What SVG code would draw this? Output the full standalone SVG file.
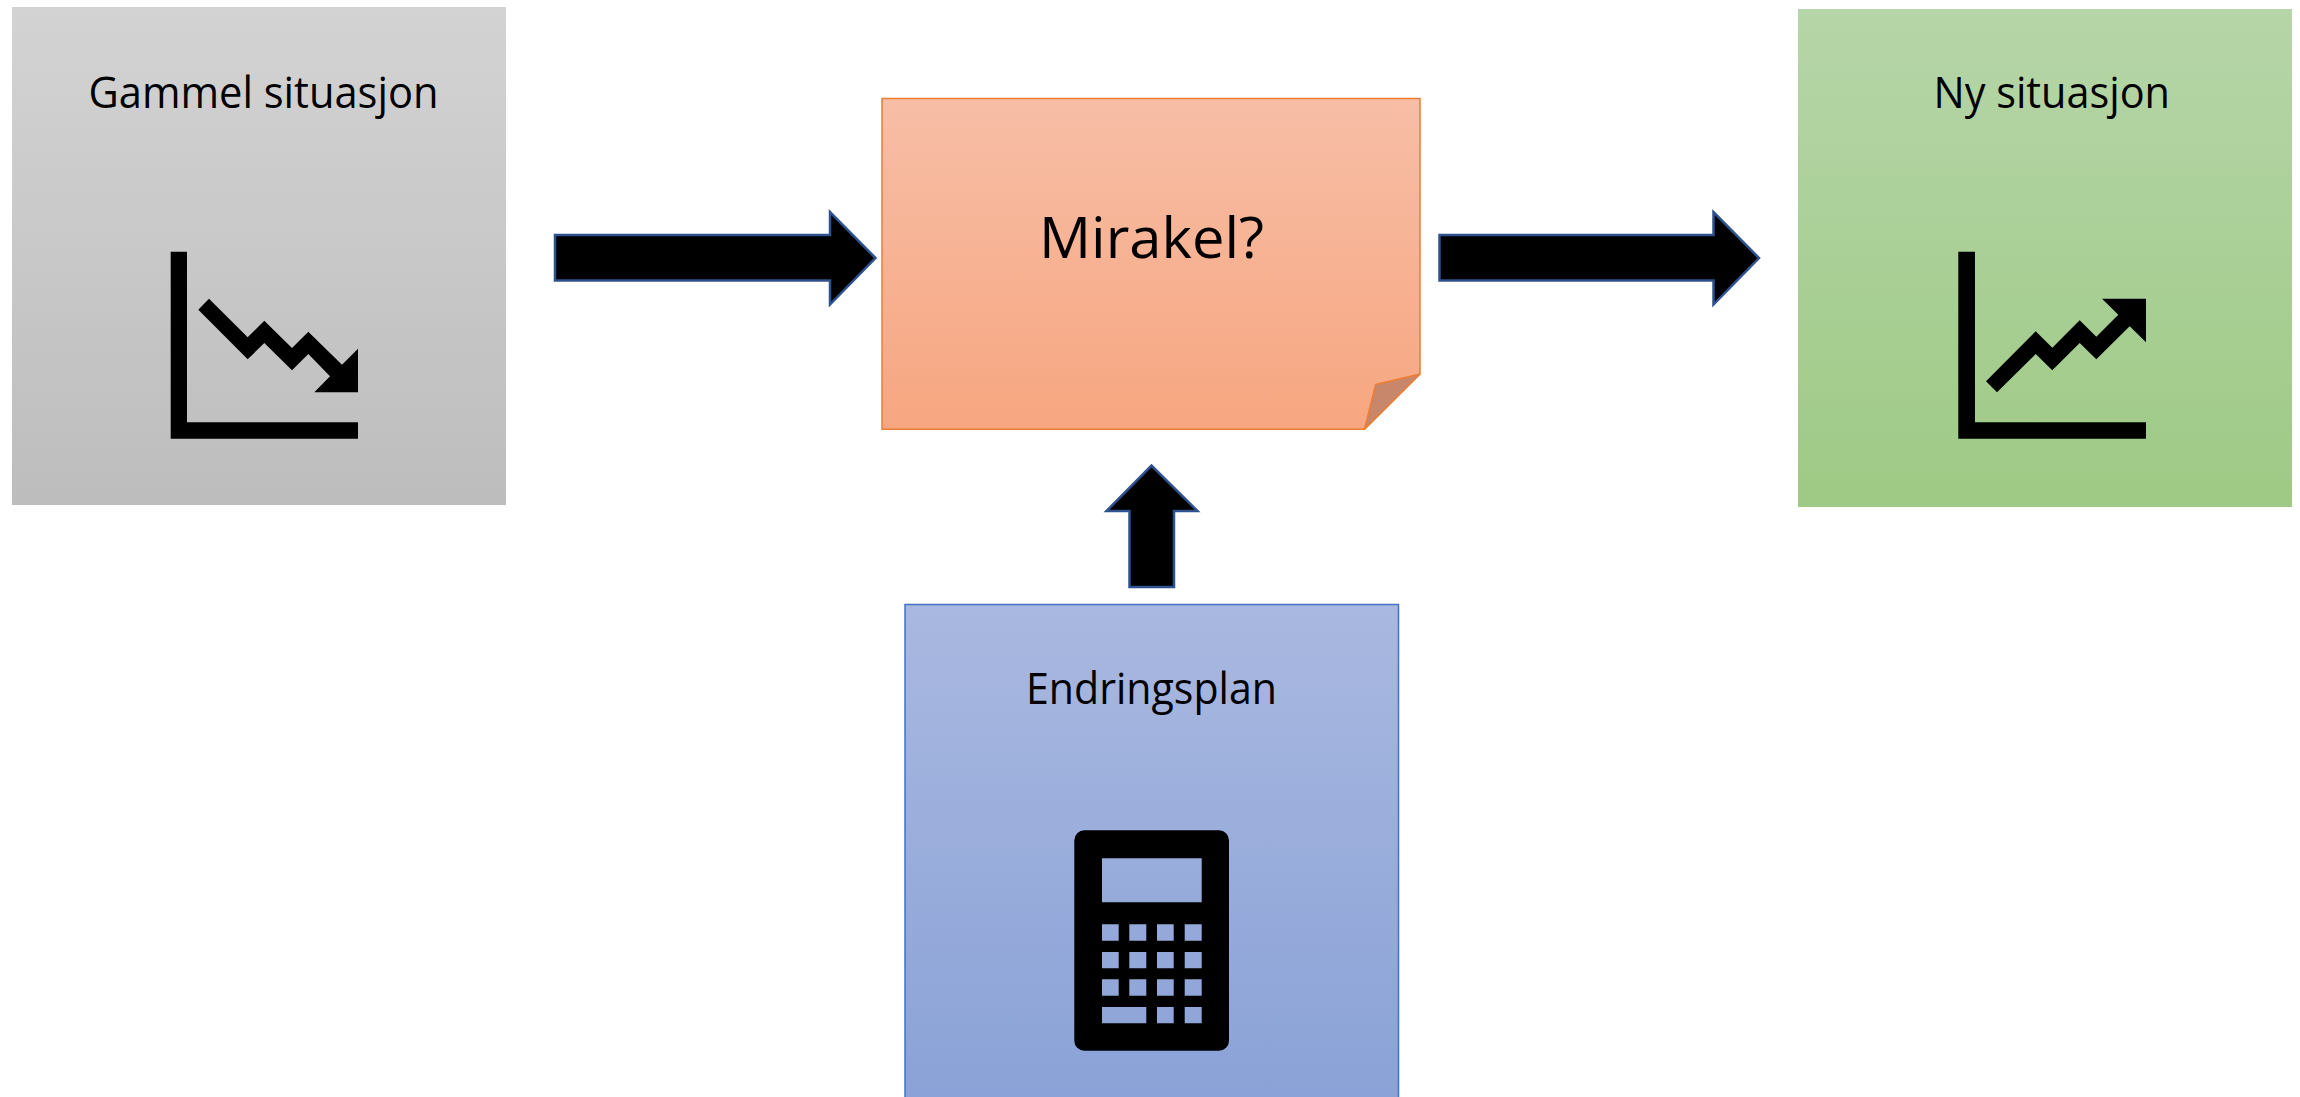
<svg xmlns="http://www.w3.org/2000/svg" width="2300" height="1097" viewBox="0 0 2300 1097">
<style>
.lbl{font-family:"Open Sans","Noto Sans",sans-serif;fill:#000}
.s{font-size:43.5px}
.arrow{fill:#000;stroke:#2f528f;stroke-width:2.5}
.ink{fill:#000}
</style>
<defs>
<linearGradient id="gGray" x1="0" y1="0" x2="0" y2="1"><stop offset="0" stop-color="#d3d3d3"/><stop offset="1" stop-color="#bdbdbd"/></linearGradient>
<linearGradient id="gGreen" x1="0" y1="0" x2="0" y2="1"><stop offset="0" stop-color="#b6d5a8"/><stop offset="1" stop-color="#9eca85"/></linearGradient>
<linearGradient id="gBlue" x1="0" y1="0" x2="0" y2="1"><stop offset="0" stop-color="#a9b8e0"/><stop offset="1" stop-color="#8aa2d7"/></linearGradient>
<linearGradient id="gOrange" x1="0" y1="0" x2="0" y2="1"><stop offset="0" stop-color="#f7bea6"/><stop offset="1" stop-color="#f7a680"/></linearGradient>
</defs>
<rect width="2300" height="1097" fill="#fff"/>
<g id="connectors">
<polygon class="arrow" points="555,235 830,235 830,212 875.5,258 830,304.5 830,280.5 555,280.5"/>
<polygon class="arrow" points="1439.5,235 1713.5,235 1713.5,212 1759,258 1713.5,304.5 1713.5,280.5 1439.5,280.5"/>
<polygon class="arrow" points="1129.5,587 1129.5,511 1106.5,511 1151.5,465.5 1197.5,511 1174,511 1174,587"/>
</g>
<g id="gammel">
<rect x="12" y="7" width="494" height="498" fill="url(#gGray)"/>
<text class="lbl s" x="88.5" y="107.7" textLength="350" lengthAdjust="spacingAndGlyphs">Gammel situasjon</text>
<polygon class="ink" points="170.7,251.7 187,251.7 187,422.3 358,422.3 358,438.7 170.7,438.7"/>
<polygon class="ink" points="198.3,309.7 209,298.7 247.7,337.3 264.3,320.7 292,348 308.3,331.7 342,364.7 358,348.7 358,392.3 314.3,392.3 330,376.3 308.3,354 292,370.3 264.3,343 247.7,359.3"/>
</g>
<g id="mirakel">
<polygon points="882,98.5 1420,98.5 1420,374 1364.5,429.3 882,429.3" fill="url(#gOrange)" stroke="#ed7d31" stroke-width="1.5"/>
<polygon points="1420,374 1375.7,384.5 1364.5,429.3" fill="#c8866a" stroke="#ed7d31" stroke-width="1.5" stroke-linejoin="round"/>
<text class="lbl" font-size="56.5" x="1039" y="257.7" textLength="225" lengthAdjust="spacingAndGlyphs">Mirakel?</text>
</g>
<g id="ny">
<rect x="1798" y="9" width="494" height="498" fill="url(#gGreen)"/>
<text class="lbl s" x="1933.5" y="107.7" textLength="236.5" lengthAdjust="spacingAndGlyphs">Ny situasjon</text>
<polygon class="ink" points="1958.3,251.7 1975,251.7 1975,422.3 2146,422.3 2146,438.7 1958.3,438.7"/>
<polygon class="ink" points="1986,381.3 2035.7,331.3 2052.3,347.7 2079.7,320.3 2096.3,336.7 2118.3,314.7 2102,298.7 2146,298.7 2146,342.3 2129.7,326.3 2096.3,359.3 2079.7,343 2052.3,370.3 2035.7,354 1997,392.3"/>
</g>
<g id="endringsplan">
<rect x="905" y="604.5" width="493.5" height="495" fill="url(#gBlue)" stroke="#4472c4" stroke-width="1.5"/>
<text class="lbl s" x="1026" y="704" textLength="251" lengthAdjust="spacingAndGlyphs">Endringsplan</text>
<path class="ink" fill-rule="evenodd" d="M1084.3,830.3H1219a10,10 0 0 1 10,10V1040.7a10,10 0 0 1 -10,10H1084.3a10,10 0 0 1 -10,-10V840.3a10,10 0 0 1 10,-10Z
M1102,858.3V902.3H1201.7V858.3Z
M1102,924.3V940.7H1118.7V924.3Z M1129.3,924.3V940.7H1146.3V924.3Z M1157,924.3V940.7H1173.7V924.3Z M1184.7,924.3V940.7H1201.7V924.3Z
M1102,952V968.3H1118.7V952Z M1129.3,952V968.3H1146.3V952Z M1157,952V968.3H1173.7V952Z M1184.7,952V968.3H1201.7V952Z
M1102,979.3V995.7H1118.7V979.3Z M1129.3,979.3V995.7H1146.3V979.3Z M1157,979.3V995.7H1173.7V979.3Z M1184.7,979.3V995.7H1201.7V979.3Z
M1102,1007V1023.3H1146.3V1007Z M1157,1007V1023.3H1173.7V1007Z M1184.7,1007V1023.3H1201.7V1007Z"/>
</g>
</svg>
